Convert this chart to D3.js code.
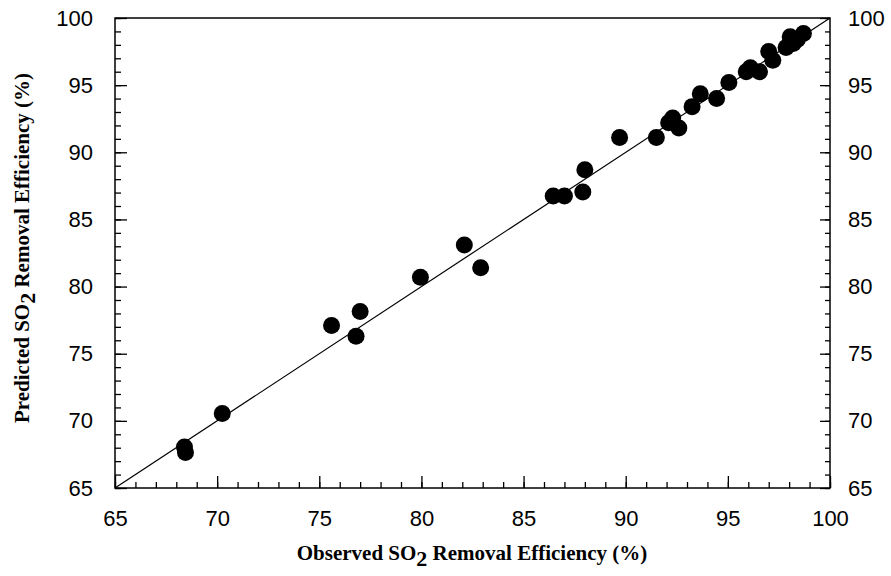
<!DOCTYPE html>
<html>
<head>
<meta charset="utf-8">
<script src="https://cdn.jsdelivr.net/npm/d3@7"></script>
<style>
  html, body { margin: 0; padding: 0; background: #fff; }
  svg { display: block; }
</style>
</head>
<body>
<svg id="chart" width="891" height="576"></svg>
<script>
// ---- data ----
const observed = [68.4, 68.45, 70.25, 75.6, 77.0, 76.8, 79.95, 82.1, 82.9,
  86.45, 87.0, 88.0, 87.9, 89.7, 91.5, 92.3, 92.6, 92.1, 93.25, 93.65, 94.45,
  95.05, 95.9, 96.1, 96.55, 97.0, 97.2, 97.85, 98.05, 98.4, 98.7, 98.2];
const predicted = [68.05, 67.65, 70.55, 77.1, 78.15, 76.3, 80.7, 83.1, 81.4,
  86.75, 86.75, 88.7, 87.05, 91.1, 91.1, 92.55, 91.8, 92.2, 93.4, 94.35, 94.0,
  95.2, 96.0, 96.3, 96.0, 97.5, 96.85, 97.8, 98.6, 98.4, 98.85, 98.1];
const majorTicks = [65, 70, 75, 80, 85, 90, 95, 100];
const minorTicks = d3.range(65, 101, 1);
const fitLine = [65, 100];

// ---- layout ----
const svg = d3.select("#chart");
const L = 115, R = 830, T = 18, B = 488;
const x = d3.scaleLinear().domain([65, 100]).range([L, R]);
const y = d3.scaleLinear().domain([65, 100]).range([B, T]);

const tickFont = "'Liberation Sans', Arial, sans-serif";
const titleFont = "'Liberation Serif', 'Times New Roman', serif";

// frame
svg.append("rect").attr("x", L).attr("y", T).attr("width", R - L).attr("height", B - T)
  .attr("fill", "none").attr("stroke", "#000").attr("stroke-width", 1.5);

// bottom axis (ticks inward)
const gx = svg.append("g").attr("transform", `translate(0,${B})`);
gx.call(d3.axisBottom(x).tickValues(minorTicks).tickSize(-6).tickFormat(""));
gx.append("g").call(d3.axisBottom(x).tickValues(majorTicks).tickSize(-12).tickPadding(22)
  .tickFormat(d3.format("d")));
gx.selectAll(".domain").remove();
gx.selectAll("line").attr("stroke", "#000").attr("stroke-width", 1.3);
gx.selectAll("text").attr("font-family", tickFont).attr("font-size", 22).attr("fill", "#000");

// left axis
const gy = svg.append("g").attr("transform", `translate(${L},0)`);
gy.call(d3.axisLeft(y).tickValues(minorTicks).tickSize(-6).tickFormat(""));
gy.append("g").call(d3.axisLeft(y).tickValues(majorTicks).tickSize(-12).tickPadding(22)
  .tickFormat(d3.format("d")));
gy.selectAll(".domain").remove();
gy.selectAll("line").attr("stroke", "#000").attr("stroke-width", 1.3);
gy.selectAll("text").attr("font-family", tickFont).attr("font-size", 22).attr("fill", "#000");

// right axis
const gr = svg.append("g").attr("transform", `translate(${R},0)`);
gr.call(d3.axisRight(y).tickValues(minorTicks).tickSize(-5).tickFormat(""));
gr.append("g").call(d3.axisRight(y).tickValues(majorTicks).tickSize(-10).tickPadding(18)
  .tickFormat(d3.format("d")));
gr.selectAll(".domain").remove();
gr.selectAll("line").attr("stroke", "#000").attr("stroke-width", 1.3);
gr.selectAll("text").attr("font-family", tickFont).attr("font-size", 22).attr("fill", "#000");

// 1:1 line
svg.append("line")
  .attr("x1", x(fitLine[0])).attr("y1", y(fitLine[0]))
  .attr("x2", x(fitLine[1])).attr("y2", y(fitLine[1]))
  .attr("stroke", "#000").attr("stroke-width", 1.2);

// points
svg.append("g").selectAll("circle")
  .data(observed.map((o, i) => [o, predicted[i]]))
  .join("circle")
  .attr("cx", d => x(d[0])).attr("cy", d => y(d[1]))
  .attr("r", 8.5).attr("fill", "#000");

// x title
const xt = svg.append("text").attr("x", 472).attr("y", 560)
  .attr("text-anchor", "middle").attr("font-family", titleFont)
  .attr("font-weight", "bold").attr("font-size", 21).attr("fill", "#000");
xt.append("tspan").text("Observed SO");
xt.append("tspan").attr("dy", 6).attr("font-size", 22).text("2");
xt.append("tspan").attr("dy", -6).text(" Removal Efficiency (%)");

// y title
const yt = svg.append("text")
  .attr("transform", "translate(29,248) rotate(-90)")
  .attr("text-anchor", "middle").attr("font-family", titleFont)
  .attr("font-weight", "bold").attr("font-size", 21).attr("fill", "#000");
yt.append("tspan").text("Predicted SO");
yt.append("tspan").attr("dy", 6).attr("font-size", 22).text("2");
yt.append("tspan").attr("dy", -6).text(" Removal Efficiency (%)");
</script>
</body>
</html>
